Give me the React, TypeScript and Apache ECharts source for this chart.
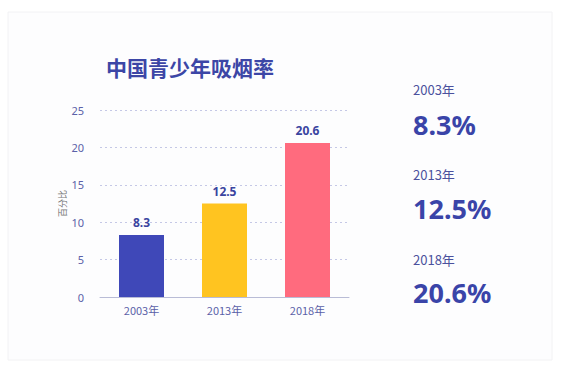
import React, { useEffect, useRef } from "react";
import * as echarts from "echarts";

const categories = ["2003年", "2013年", "2018年"];
const values = [8.3, 12.5, 20.6];
const barColors = ["#3F48B8", "#FFC420", "#FF6B7E"];
const yTicks = { min: 0, max: 25, interval: 5 };
const titleText = "中国青少年吸烟率";
const yAxisName = "百分比";

export default function App() {
  const ref = useRef<HTMLDivElement>(null);
  useEffect(() => {
    const chart = echarts.init(ref.current!, null, { renderer: "svg" });
    const sideTexts: any[] = [];
    const yearTops = [91, 176, 261];
    const valTops = [127, 211, 295];
    categories.forEach((c, i) => {
      sideTexts.push({
        type: "text",
        left: 413,
        top: yearTops[i] - 8,
        style: { text: c, fontSize: 13, fill: "#4B519D", fontFamily: "Noto Sans CJK SC" },
      });
      sideTexts.push({
        type: "text",
        left: 413,
        top: valTops[i] - 16,
        style: { text: values[i] + "%", fontSize: 27, fontWeight: "bold", fill: "#3A44A8", fontFamily: "Noto Sans" },
      });
    });
    chart.setOption({
      animation: false,
      backgroundColor: "#ffffff",
      graphic: [
        {
          type: "rect",
          z: -10,
          shape: { x: 8, y: 12, width: 544, height: 348 },
          style: { fill: "#FDFDFE", stroke: "#F2F2F4", lineWidth: 1 },
        },
        {
          type: "text",
          left: 106,
          top: 56,
          style: { text: titleText, fontSize: 21, fontWeight: "bold", fill: "#3C46A6", fontFamily: "Noto Sans CJK SC" },
        },
        ...sideTexts,
      ],
      grid: { left: 100, right: 214, top: 110, bottom: 79 },
      xAxis: {
        type: "category",
        data: categories,
        axisTick: { show: false },
        axisLine: { lineStyle: { color: "#B9BCD6" } },
        axisLabel: { color: "#5B61A8", fontSize: 11, margin: 7, fontFamily: "Noto Sans CJK SC" },
      },
      yAxis: {
        type: "value",
        min: yTicks.min,
        max: yTicks.max,
        interval: yTicks.interval,
        name: yAxisName,
        nameLocation: "middle",
        nameRotate: 90,
        nameGap: 33,
        nameTextStyle: { fontSize: 9, color: "#777", fontFamily: "Noto Sans CJK SC" },
        axisLine: { show: false },
        axisTick: { show: false },
        axisLabel: { color: "#5B61A8", fontSize: 11, margin: 16, fontFamily: "Noto Sans" },
        splitLine: { lineStyle: { color: "#C5C8E6", type: [2, 3] } },
      },
      series: [
        {
          type: "bar",
          barWidth: 45,
          data: values.map((v, i) => ({ value: v, itemStyle: { color: barColors[i] } })),
          label: {
            show: true,
            position: "top",
            distance: 6,
            color: "#3A44A0",
            fontSize: 12,
            fontWeight: "bold",
            fontFamily: "Noto Sans",
          },
        },
      ],
    });
    return () => chart.dispose();
  }, []);
  return <div ref={ref} style={{ position: "absolute", left: 0, top: 0, width: 563, height: 376 }} />;
}
